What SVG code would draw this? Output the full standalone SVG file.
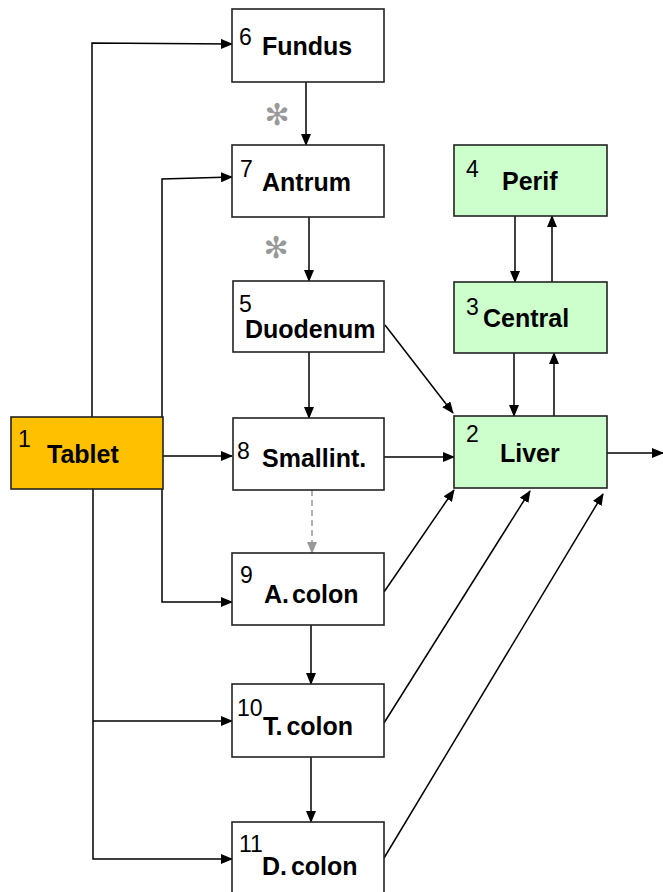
<svg xmlns="http://www.w3.org/2000/svg" width="663" height="892" viewBox="0 0 663 892">
<defs>
<marker id="ah" markerUnits="userSpaceOnUse" markerWidth="12" markerHeight="10" refX="11" refY="5" orient="auto">
<path d="M0,0 L12,5 L0,10 Z" fill="#000"/>
</marker>
<marker id="ahg" markerUnits="userSpaceOnUse" markerWidth="12" markerHeight="10" refX="11" refY="5" orient="auto">
<path d="M0,0 L12,5 L0,10 Z" fill="#999"/>
</marker>
<style>
.box{fill:#fff;stroke:#222;stroke-width:1.6}
.g{fill:#ccffcc}
.o{fill:#ffc000}
.num{font-family:"Liberation Sans",Arial,sans-serif;font-size:23px;fill:#000}
.lbl{font-family:"Liberation Sans",Arial,sans-serif;font-size:25px;font-weight:bold;fill:#000}
.c{fill:none;stroke:#000;stroke-width:1.5;marker-end:url(#ah)}
.d{fill:none;stroke:#999;stroke-width:1.5;stroke-dasharray:6,4;marker-end:url(#ahg)}
.ast{font-family:"DejaVu Sans",sans-serif;font-size:30px;fill:#999}
</style>
</defs>
<rect width="663" height="892" fill="#fff"/>
<g id="connectors">
<polyline class="c" points="92,417 92,43 232,44"/>
<polyline class="c" points="162,417 162,179 232,177"/>
<line class="c" x1="163" y1="456" x2="232" y2="456"/>
<polyline class="c" points="162,489 162,602 232,602"/>
<polyline class="c" points="93,489 93,859 232,859"/>
<line class="c" x1="93" y1="721" x2="232" y2="721"/>
<line class="c" x1="306" y1="82" x2="306" y2="145"/>
<line class="c" x1="309" y1="217" x2="309" y2="281"/>
<line class="c" x1="309" y1="352" x2="309" y2="418"/>
<line class="d" x1="312" y1="490" x2="312" y2="553"/>
<line class="c" x1="311" y1="625" x2="311" y2="684"/>
<line class="c" x1="311" y1="757" x2="311" y2="822"/>
<line class="c" x1="385" y1="325" x2="453" y2="413"/>
<line class="c" x1="384" y1="457" x2="454" y2="457"/>
<line class="c" x1="384" y1="592" x2="454" y2="490"/>
<line class="c" x1="384" y1="723" x2="530" y2="491"/>
<line class="c" x1="384" y1="858" x2="603" y2="494"/>
<line class="c" x1="515" y1="216" x2="515" y2="282"/>
<line class="c" x1="552" y1="282" x2="552" y2="216"/>
<line class="c" x1="514" y1="353" x2="514" y2="416"/>
<line class="c" x1="554" y1="416" x2="554" y2="353"/>
<line class="c" x1="607" y1="453" x2="663" y2="453"/>
<text class="ast" x="277" y="114" text-anchor="middle" dominant-baseline="central">✻</text>
<text class="ast" x="276" y="247" text-anchor="middle" dominant-baseline="central">✻</text>
</g>
<g id="n6"><rect class="box" x="232" y="9" width="152" height="73"/><text class="num" x="239" y="45">6</text><text class="lbl" x="262" y="55">Fundus</text></g>
<g id="n7"><rect class="box" x="232" y="145" width="152" height="72"/><text class="num" x="240" y="177">7</text><text class="lbl" x="262" y="191">Antrum</text></g>
<g id="n5"><rect class="box" x="233" y="281" width="151" height="71"/><text class="num" x="239" y="312">5</text><text class="lbl" x="245" y="338">Duodenum</text></g>
<g id="n8"><rect class="box" x="233" y="418" width="151" height="72"/><text class="num" x="237" y="459">8</text><text class="lbl" x="262" y="467">Smallint.</text></g>
<g id="n9"><rect class="box" x="232" y="553" width="152" height="72"/><text class="num" x="240" y="583">9</text><text class="lbl" x="264" y="603" word-spacing="-4">A. colon</text></g>
<g id="n10"><rect class="box" x="232" y="684" width="152" height="73"/><text class="num" x="237" y="716">10</text><text class="lbl" x="263" y="735" word-spacing="-3">T. colon</text></g>
<g id="n11"><rect class="box" x="232" y="822" width="152" height="73"/><text class="num" x="239" y="852">11</text><text class="lbl" x="262" y="875" word-spacing="-3">D. colon</text></g>
<g id="n1"><rect class="box o" x="11" y="417" width="152" height="72"/><text class="num" x="18" y="447">1</text><text class="lbl" x="47" y="463">Tablet</text></g>
<g id="n4"><rect class="box g" x="454" y="145" width="153" height="71"/><text class="num" x="466" y="177">4</text><text class="lbl" x="502" y="190">Perif</text></g>
<g id="n3"><rect class="box g" x="454" y="282" width="153" height="71"/><text class="num" x="466" y="315">3</text><text class="lbl" x="483" y="327">Central</text></g>
<g id="n2"><rect class="box g" x="454" y="416" width="153" height="72"/><text class="num" x="466" y="442">2</text><text class="lbl" x="500" y="462">Liver</text></g>
</svg>
